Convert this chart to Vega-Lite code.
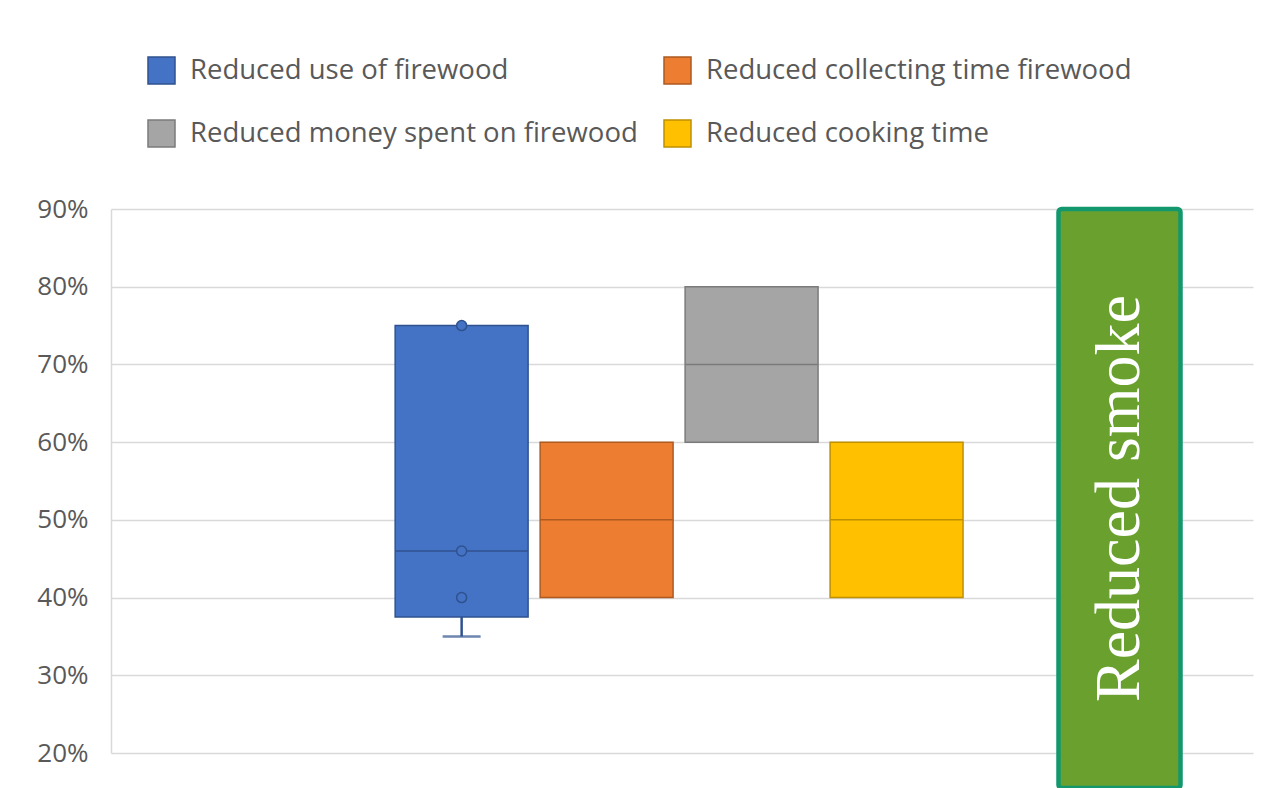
{
  "$schema": "https://vega.github.io/schema/vega-lite/v6.json",
  "width": 1142,
  "height": 544,
  "autosize": {"type": "none"},
  "padding": {"left": 111, "top": 209, "right": 23, "bottom": 35},
  "background": "white",
  "datasets": {
    "boxes": [
      {"category": "Reduced use of firewood", "min": 0.35, "q1": 0.375, "median": 0.46, "q3": 0.75, "max": 0.75},
      {"category": "Reduced collecting time firewood", "min": 0.4, "q1": 0.4, "median": 0.5, "q3": 0.6, "max": 0.6},
      {"category": "Reduced money spent on firewood", "min": 0.6, "q1": 0.6, "median": 0.7, "q3": 0.8, "max": 0.8},
      {"category": "Reduced cooking time", "min": 0.4, "q1": 0.4, "median": 0.5, "q3": 0.6, "max": 0.6}
    ],
    "points": [
      {"category": "Reduced use of firewood", "value": 0.75},
      {"category": "Reduced use of firewood", "value": 0.46},
      {"category": "Reduced use of firewood", "value": 0.4}
    ],
    "notes": [
      {"label": "Reduced smoke", "low": 0.155, "high": 0.9}
    ]
  },
  "config": {
    "view": {"stroke": null},
    "axisY": {
      "grid": true,
      "gridColor": "#D9D9D9",
      "gridWidth": 1.5,
      "domain": true,
      "domainColor": "#D9D9D9",
      "domainWidth": 1.5,
      "ticks": false,
      "labelPadding": 23,
      "labelFont": "Open Sans",
      "labelFontSize": 26,
      "labelColor": "#595959"
    },
    "legend": {
      "orient": "none",
      "legendX": 36,
      "legendY": -153,
      "columns": 2,
      "direction": "horizontal",
      "padding": 0,
      "symbolType": "square",
      "symbolSize": 729,
      "symbolStrokeWidth": 1.5,
      "labelFont": "Open Sans",
      "labelFontSize": 27.5,
      "labelColor": "#595959",
      "labelOffset": 14,
      "labelLimit": 1000,
      "rowPadding": 30,
      "columnPadding": 23
    }
  },
  "layer": [
    {
      "encoding": {
        "x": {
          "field": "category",
          "type": "nominal",
          "scale": {
            "type": "band",
            "domain": ["_slot1", "Reduced use of firewood", "Reduced collecting time firewood", "Reduced money spent on firewood", "Reduced cooking time", "_slot2", "_slot3"],
            "paddingInner": 0.083,
            "paddingOuter": 0.48,
            "align": 1
          },
          "axis": null
        }
      },
      "layer": [
        {
          "data": {"name": "boxes"},
          "transform": [{"filter": "datum.min < datum.q1"}],
          "mark": {"type": "rule", "strokeWidth": 2.5},
          "encoding": {
            "y": {"field": "min", "type": "quantitative", "title": null,
                  "scale": {"domain": [0.2, 0.9], "nice": false, "zero": false},
                  "axis": {"values": [0.2, 0.3, 0.4, 0.5, 0.6, 0.7, 0.8, 0.9], "format": ".0%"}},
            "y2": {"field": "q1"},
            "stroke": {"field": "category", "type": "nominal", "legend": {"title": null},
                       "scale": {"domain": ["Reduced use of firewood", "Reduced collecting time firewood", "Reduced money spent on firewood", "Reduced cooking time"],
                                 "range": ["#2F528F", "#AE5A21", "#7B7B7B", "#BF9000"]}}
          }
        },
        {
          "data": {"name": "boxes"},
          "transform": [{"filter": "datum.min < datum.q1"}],
          "mark": {"type": "tick", "orient": "horizontal", "size": 38, "thickness": 2.5},
          "encoding": {
            "y": {"field": "min", "type": "quantitative", "title": null},
            "color": {"value": "#2F528F"}
          }
        },
        {
          "data": {"name": "boxes"},
          "mark": {"type": "bar", "strokeWidth": 1.5},
          "encoding": {
            "y": {"field": "q1", "type": "quantitative", "title": null},
            "y2": {"field": "q3"},
            "fill": {"field": "category", "type": "nominal",
                     "scale": {"domain": ["Reduced use of firewood", "Reduced collecting time firewood", "Reduced money spent on firewood", "Reduced cooking time"],
                               "range": ["#4472C4", "#ED7D31", "#A5A5A5", "#FFC000"]},
                     "legend": {"title": null}},
            "stroke": {"field": "category", "type": "nominal", "legend": {"title": null}}
          }
        },
        {
          "data": {"name": "boxes"},
          "mark": {"type": "bar", "fillOpacity": 0, "strokeWidth": 1.5},
          "encoding": {
            "y": {"field": "median", "type": "quantitative", "title": null},
            "y2": {"field": "median"},
            "stroke": {"field": "category", "type": "nominal", "legend": {"title": null}}
          }
        },
        {
          "data": {"name": "points"},
          "mark": {"type": "point", "filled": true, "size": 100, "strokeWidth": 1.5, "opacity": 1},
          "encoding": {
            "y": {"field": "value", "type": "quantitative", "title": null},
            "fill": {"field": "category", "type": "nominal", "legend": {"title": null}},
            "stroke": {"field": "category", "type": "nominal", "legend": {"title": null}}
          }
        }
      ]
    },
    {
      "data": {"name": "notes"},
      "encoding": {
        "x": {
          "field": "label",
          "type": "nominal",
          "scale": {"type": "band", "domain": ["Reduced smoke"], "range": [947.5, 1069.5], "paddingInner": 0, "paddingOuter": 0},
          "axis": null
        }
      },
      "layer": [
        {
          "mark": {"type": "bar", "color": "#6AA12E", "stroke": "#12986C", "strokeWidth": 4.5, "cornerRadius": 3},
          "encoding": {
            "y": {"field": "high", "type": "quantitative", "title": null},
            "y2": {"field": "low"}
          }
        },
        {
          "transform": [{"calculate": "(datum.high + datum.low) / 2", "as": "mid"}],
          "mark": {"type": "text", "angle": 270, "align": "center", "baseline": "middle", "font": "Liberation Serif", "fontSize": 64, "color": "white"},
          "encoding": {
            "y": {"field": "mid", "type": "quantitative", "title": null},
            "text": {"field": "label"}
          }
        }
      ]
    }
  ],
  "resolve": {"scale": {"x": "independent"}}
}
